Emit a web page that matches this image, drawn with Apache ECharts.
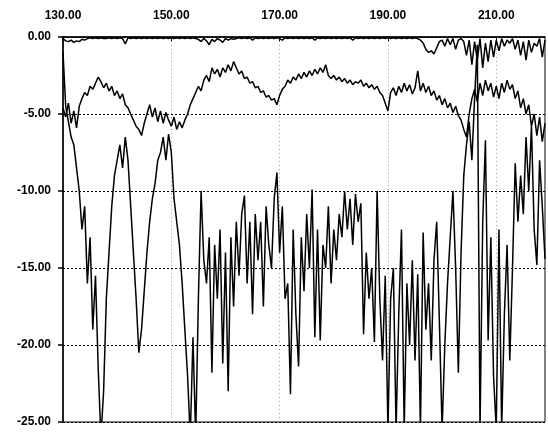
<!DOCTYPE html>
<html>
<head>
<meta charset="utf-8">
<script src="https://cdn.jsdelivr.net/npm/echarts@6/dist/echarts.min.js"></script>
<style>
html,body{margin:0;padding:0;background:#fff;}
#chart{width:548px;height:433px;}
</style>
</head>
<body>
<div id="chart"></div>
<script>
// Sampling grid of the x axis (one sample every 0.5 unit starting at 130)
var xStart = 130;
var xStep = 0.5;
var xTicks = [130, 150, 170, 190, 210];
var yTicks = [0, -5, -10, -15, -20, -25];

// Top trace (near 0)
var seriesA = [
  -0.1,-0.25,-0.3,-0.2,-0.35,-0.25,-0.3,-0.15,-0.2,
  -0.1,-0.05,-0.1,-0.05,-0.1,-0.05,-0.1,-0.1,-0.05,-0.1,-0.05,-0.1,-0.05,-0.1,
  -0.45,
  -0.05,-0.1,-0.05,-0.1,-0.05,-0.1,-0.05,-0.1,-0.05,-0.1,-0.05,-0.1,-0.05,-0.1,-0.05,-0.1,-0.05,-0.1,-0.05,-0.1,-0.05,-0.1,-0.05,-0.1,-0.05,-0.1,
  -0.15,-0.3,-0.1,-0.25,-0.5,-0.15,-0.3,-0.1,-0.2,-0.35,-0.1,-0.2,-0.1,-0.15,-0.1,
  -0.05,-0.1,-0.05,-0.1,-0.05,-0.2,-0.05,-0.1,-0.05,-0.1,-0.05,-0.1,-0.05,-0.1,-0.05,-0.1,-0.2,-0.05,-0.1,-0.05,
  -0.1,-0.05,-0.1,-0.05,-0.1,-0.05,-0.1,-0.05,-0.2,-0.05,-0.1,-0.05,-0.1,-0.05,-0.1,-0.05,-0.1,-0.05,-0.1,-0.05,
  -0.1,-0.05,-0.2,-0.05,-0.1,-0.05,-0.1,-0.05,-0.1,-0.05,-0.1,-0.05,-0.1,-0.05,-0.1,-0.05,-0.1,-0.05,-0.1,-0.05,
  -0.1,-0.05,-0.1,-0.05,-0.1,-0.05,-0.1,
  -0.2,-0.4,-0.8,-1.0,-0.9,-1.1,-0.7,-0.3,
  -0.2,-0.6,-0.1,-0.5,-0.1,-0.8,-0.2,-0.1,-0.3,-1.2,-0.2,-1.8,-0.3,-1.5,-0.1,-2.0,-0.4,-1.6,-0.2,-1.3,
  -0.2,-0.9,-0.1,-0.6,-0.2,-0.4,-0.1,-0.8,-0.2,-1.2,-0.3,-1.5,-0.2,-1.0,-0.4,-0.6,-0.1,-1.3,-0.2
];

// Middle trace (about -2 to -6)
var seriesB = [
  -4.6,-5.2,-4.3,-5.6,-4.8,-5.9,-4.5,-4.0,-3.6,-3.8,
  -3.2,-3.4,-3.0,-2.6,-2.9,-3.3,-3.0,-3.5,-3.2,-3.8,
  -3.5,-4.0,-3.7,-4.4,-4.6,-5.0,-5.4,-5.8,-6.0,-6.4,
  -5.6,-5.0,-4.4,-5.2,-4.6,-5.5,-4.8,-5.6,-4.9,-5.4,
  -5.8,-5.2,-6.0,-5.5,-5.9,-5.4,-5.0,-4.4,-4.0,-3.6,
  -3.2,-3.5,-2.8,-2.5,-2.9,-2.0,-2.4,-2.1,-2.6,-2.0,
  -2.3,-1.8,-2.2,-1.6,-2.0,-2.4,-2.2,-2.7,-2.6,-3.0,
  -2.9,-3.3,-3.2,-3.6,-3.5,-3.9,-3.8,-4.1,-4.0,-4.4,
  -3.8,-3.4,-3.2,-2.8,-3.0,-2.6,-2.8,-2.4,-2.7,-2.3,
  -2.6,-2.2,-2.5,-2.1,-2.4,-2.0,-2.3,-1.8,-2.5,-2.7,
  -2.5,-2.8,-2.6,-2.9,-2.7,-3.0,-2.8,-3.1,-2.9,-3.0,
  -2.8,-3.2,-3.0,-3.3,-3.1,-3.4,-3.2,-3.6,-3.8,-4.3,
  -4.8,-3.6,-3.3,-3.8,-3.2,-3.6,-3.0,-3.5,-3.1,-3.7,
  -3.3,-2.2,-3.5,-3.0,-3.6,-3.2,-3.8,-3.5,-4.1,-3.8,
  -4.4,-4.0,-4.6,-4.3,-4.9,-4.5,-5.1,-5.4,-6.0,-6.5,
  -5.0,-4.0,-3.4,-4.2,-3.0,-3.8,-2.8,-3.5,-3.0,-3.9,
  -3.2,-4.0,-3.0,-3.6,-2.8,-3.4,-3.1,-4.0,-3.5,-4.6,
  -4.0,-5.0,-4.4,-5.8,-5.0,-6.4,-5.2,-6.8,-5.6
];

// Bottom noisy trace
var seriesC = [
  -1.0,-4.5,-5.5,-6.5,-7.0,-8.5,-10.0,-12.5,-11.0,-16.0,
  -13.0,-19.0,-15.5,-21.5,-26.0,-23.0,-17.0,-14.0,-11.0,-9.0,
  -8.0,-7.0,-8.5,-6.5,-8.0,-11.0,-14.0,-17.0,-20.5,-19.0,
  -16.5,-14.0,-12.0,-10.5,-9.5,-8.0,-7.5,-6.5,-8.0,-6.3,
  -7.5,-10.5,-12.0,-13.5,-16.0,-19.0,-22.0,-26.0,-19.5,-26.0,
  -17.0,-10.0,-14.5,-16.0,-13.0,-21.8,-13.5,-17.0,-12.5,-21.2,
  -14.0,-23.0,-13.0,-17.5,-12.0,-15.5,-11.5,-10.3,-16.0,-12.0,
  -18.0,-11.5,-14.5,-12.0,-17.5,-11.0,-13.5,-15.0,-10.5,-8.8,
  -14.0,-11.0,-17.0,-16.0,-23.2,-12.5,-18.0,-21.4,-13.0,-16.5,
  -11.5,-15.0,-9.9,-19.5,-12.5,-19.7,-13.5,-15.0,-11.0,-16.0,
  -12.5,-14.5,-11.5,-13.0,-10.0,-12.5,-10.5,-13.5,-10.2,-12.0,
  -10.8,-19.3,-14.0,-17.0,-15.0,-19.8,-10.0,-17.0,-21.0,-15.5,
  -25.5,-17.0,-15.0,-25.5,-18.0,-12.5,-25.5,-16.0,-20.0,-14.5,
  -21.0,-15.4,-25.5,-12.7,-19.0,-16.0,-21.0,-14.5,-12.0,-18.5,
  -25.5,-20.0,-16.0,-13.0,-10.0,-15.0,-21.8,-14.0,-9.0,-7.0,
  -5.5,-8.0,-4.0,-0.5,-25.5,-12.0,-6.7,-19.7,-13.0,-22.0,
  -25.5,-12.5,-25.5,-18.0,-13.5,-21.0,-15.0,-8.2,-12.0,-9.0,
  -11.5,-6.5,-10.0,-5.8,-12.5,-14.8,-8.0,-11.0,-14.4
];

function toPairs(arr) {
  var out = [];
  for (var i = 0; i < arr.length; i++) out.push([xStart + i * xStep, arr[i]]);
  return out;
}

var chart = echarts.init(document.getElementById('chart'), null, {renderer: 'canvas'});
var labelFont = {color: '#000', fontFamily: 'Liberation Sans, Arial, sans-serif', fontWeight: 'bold', fontSize: 12};
var lineStyle = {color: '#000', width: 1.5};

chart.setOption({
  animation: false,
  backgroundColor: '#fff',
  grid: {left: 63, right: 3, top: 37, bottom: 11, show: true, borderColor: '#000', borderWidth: 1, backgroundColor: 'transparent'},
  xAxis: {
    type: 'value', position: 'top', min: xTicks[0], max: 219, interval: 20,
    axisLine: {show: true, lineStyle: {color: '#000', width: 1.5}},
    axisTick: {show: true, inside: true, length: 4, lineStyle: {color: '#000'}},
    axisLabel: Object.assign({margin: 15, showMaxLabel: false, formatter: function (v) { return v.toFixed(2); }}, labelFont),
    splitLine: {show: true, lineStyle: {color: '#999', width: 1, type: [1, 3]}}
  },
  yAxis: {
    type: 'value', min: yTicks[yTicks.length - 1], max: yTicks[0], interval: 5,
    axisLine: {show: true, lineStyle: {color: '#000', width: 1.5}},
    axisTick: {show: true, inside: false, length: 5, lineStyle: {color: '#000', width: 1.5}},
    axisLabel: Object.assign({margin: 12, formatter: function (v) { return v.toFixed(2); }}, labelFont),
    splitLine: {show: true, lineStyle: {color: '#000', width: 1, type: [2, 2]}}
  },
  series: [
    {type: 'line', data: toPairs(seriesA), showSymbol: false, lineStyle: lineStyle, clip: true, z: 3},
    {type: 'line', data: toPairs(seriesB), showSymbol: false, lineStyle: lineStyle, clip: true, z: 3},
    {type: 'line', data: toPairs(seriesC), showSymbol: false, lineStyle: lineStyle, clip: true, z: 3}
  ]
});
</script>
</body>
</html>
